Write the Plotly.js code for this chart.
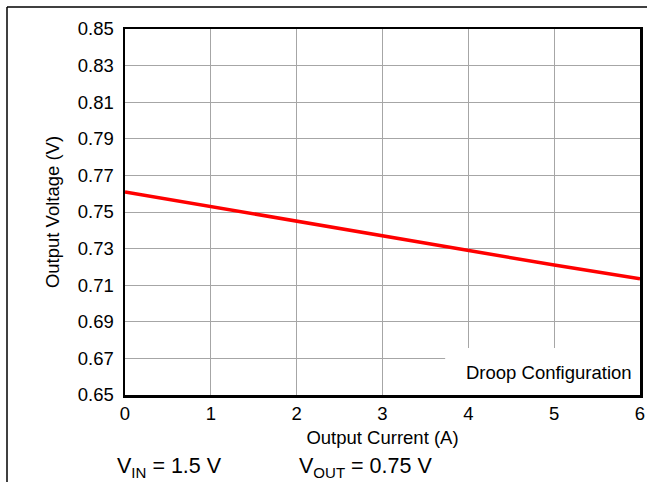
<!DOCTYPE html>
<html><head><meta charset="utf-8">
<script src="https://cdn.plot.ly/plotly-3.0.1.min.js"></script>
<style>html,body{margin:0;padding:0;background:#fff}#c{width:647px;height:482px}</style>
</head><body><div id="c"></div>
<script>
const currentA = [0, 1, 2, 3, 4, 5, 6];
const voltageV = [0.761, 0.753, 0.745, 0.737, 0.729, 0.721, 0.7135];
const yTicks = [0.65,0.67,0.69,0.71,0.73,0.75,0.77,0.79,0.81,0.83,0.85];
const xTicks = [0,1,2,3,4,5,6];
const FAM = 'Liberation Sans, Arial, sans-serif';
function f(size) { return {family: FAM, size: size, color: '#000'}; }
const trace = {x: currentA, y: voltageV, mode: 'lines', line: {color: '#ff0000', width: 3.5}, hoverinfo: 'skip'};
const layout = {
  width: 647, height: 482,
  margin: {l: 125, r: 7, t: 29, b: 87},
  paper_bgcolor: '#fff', plot_bgcolor: '#fff',
  showlegend: false, font: f(18.5),
  xaxis: {range: [0, 6], tickvals: xTicks, ticktext: xTicks.map(String), showgrid: true, gridcolor: '#a6a6a6', gridwidth: 1,
    zeroline: false, showline: true, mirror: true, linecolor: '#000', linewidth: 2.5, ticks: '', ticklen: 0,
    tickfont: f(18.5), title: {text: 'Output Current (A)', font: f(18.5), standoff: 9}},
  yaxis: {range: [0.65, 0.85], tickvals: yTicks, ticktext: yTicks.map(v => v.toFixed(2)), showgrid: true, gridcolor: '#a6a6a6', gridwidth: 1,
    zeroline: false, showline: true, mirror: true, linecolor: '#000', linewidth: 2.5, ticks: 'outside', ticklen: 5, tickcolor: 'rgba(0,0,0,0)',
    tickfont: f(18.5), title: {text: 'Output Voltage (V)', font: f(18.5), standoff: 14}},
  shapes: [
    {type: 'rect', layer: 'between', xref: 'x', yref: 'y', x0: 3.73, x1: 6, y0: 0.65, y1: 0.6757, fillcolor: '#fff', line: {width: 0}},
    {type: 'line', xref: 'paper', yref: 'paper', x0: -118/515, x1: 522/515, y0: (482-87-7)/366, y1: (482-87-7)/366, line: {color: '#000', width: 1.5}},
    {type: 'line', xref: 'paper', yref: 'paper', x0: -118/515, x1: -118/515, y0: (482-87-7)/366, y1: -100/366, line: {color: '#000', width: 1.5}}
  ],
  annotations: [
    {xref: 'x', yref: 'y', x: 5.93, y: 0.6625, xanchor: 'right', yanchor: 'middle', text: 'Droop Configuration', showarrow: false, font: f(18.5)},
    {xref: 'paper', yref: 'paper', x: -10/515, y: -73/366, xanchor: 'left', yanchor: 'middle', text: 'V<sub>IN</sub> = 1.5 V', showarrow: false, font: f(21.5)},
    {xref: 'paper', yref: 'paper', x: 172/515, y: -73/366, xanchor: 'left', yanchor: 'middle', text: 'V<sub>OUT</sub> = 0.75 V', showarrow: false, font: f(21.5)}
  ]
};
Plotly.newPlot('c', [trace], layout, {staticPlot: true, displayModeBar: false});
</script></body></html>
